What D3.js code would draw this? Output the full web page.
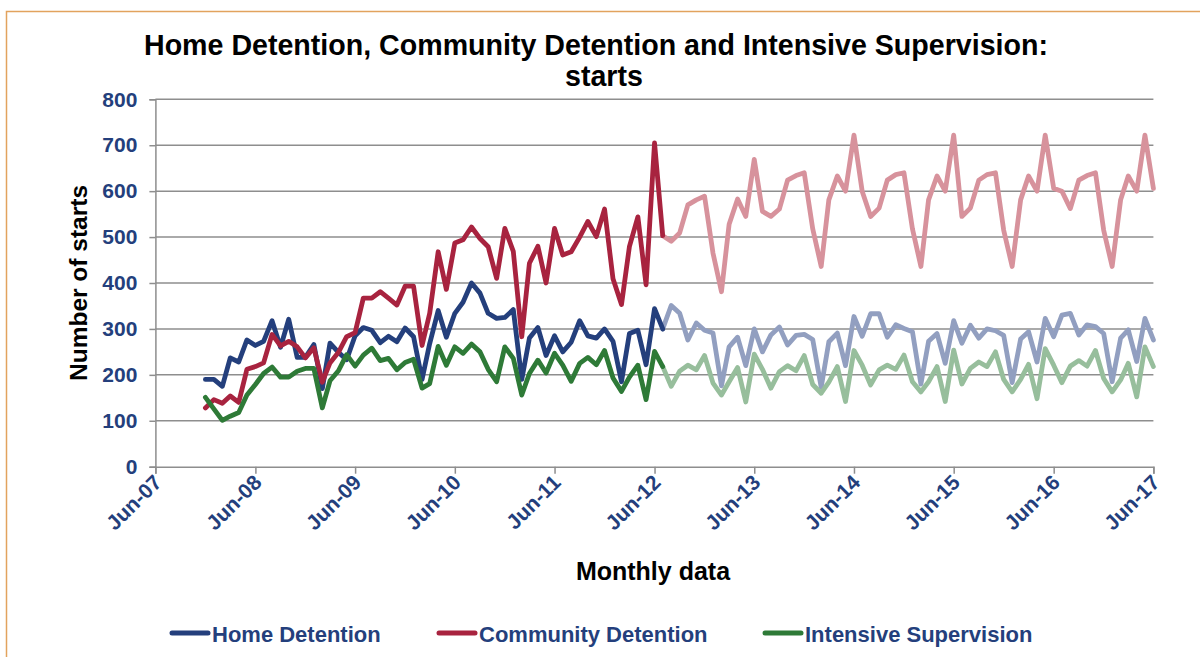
<!DOCTYPE html>
<html>
<head>
<meta charset="utf-8">
<script src="https://cdn.jsdelivr.net/npm/d3@7"></script>
<style>
  body { margin: 0; background: #fff; }
  svg { display: block; }
  text { font-family: "Liberation Sans", Arial, sans-serif; font-weight: bold; }
</style>
</head>
<body>
<svg id="chart" width="1200" height="657"></svg>
<script>
// Monthly starts, actuals from Dec-07 to Jul-12
const actualStart = "2007-12";
const homeDetention = [
  190,
  190, 175, 237, 228, 276, 264, 273, 318, 260, 321, 238, 238,
  266, 170, 269, 249, 233, 285, 303, 297, 270, 284, 272, 302,
  283, 190, 268, 340, 282, 334, 358, 400, 378, 334, 323, 325,
  342, 190, 280, 303, 242, 285, 250, 271, 318, 285, 280, 300,
  273, 185, 290, 297, 222, 344, 300
];
const communityDetention = [
  128,
  146, 138, 154, 140, 212, 218, 226, 288, 263, 273, 261, 237,
  259, 184, 226, 249, 283, 292, 367, 367, 381, 367, 352, 393,
  393, 264, 334, 468, 386, 487, 494, 522, 497, 479, 410, 519,
  469, 283, 443, 480, 400, 519, 461, 468, 500, 534, 501, 561,
  409, 353, 479, 544, 396, 705, 503
];
const intensiveSupervision = [
  151,
  126, 101, 110, 118, 156, 179, 203, 217, 195, 195, 208, 214,
  214, 128, 187, 209, 244, 219, 243, 258, 231, 236, 211, 227,
  234, 171, 181, 262, 221, 261, 247, 267, 250, 212, 185, 261,
  236, 156, 203, 232, 204, 247, 221, 186, 225, 238, 222, 253,
  193, 164, 195, 221, 146, 251, 218
];

// Projected starts, Jul-12 to Jun-17
const projectionStart = "2012-07";
const homeDetentionProj = [
  300, 351, 334, 276, 313, 297,
  291, 176, 261, 282, 220, 300, 250, 287, 304, 265, 286, 288,
  277, 173, 272, 291, 220, 327, 284, 333, 333, 282, 309, 301,
  294, 180, 273, 290, 225, 318, 269, 308, 280, 300, 296, 286,
  183, 278, 294, 228, 323, 283, 330, 334, 287, 309, 305, 290,
  185, 280, 298, 229, 323, 276
];
const communityDetentionProj = [
  503, 491, 509, 570, 581, 589,
  465, 381, 528, 583, 545, 669, 556, 545, 561, 624, 634, 640,
  518, 436, 581, 633, 600, 722, 600, 545, 563, 624, 636, 640,
  518, 436, 581, 633, 600, 722, 545, 563, 624, 636, 640, 515,
  436, 581, 633, 600, 722, 606, 600, 562, 624, 634, 640, 515,
  436, 581, 633, 600, 722, 606
];
const intensiveSupervisionProj = [
  218, 175, 208, 221, 211, 242,
  182, 156, 185, 216, 141, 245, 212, 171, 207, 220, 209, 242,
  179, 160, 184, 218, 142, 253, 221, 178, 211, 221, 212, 243,
  185, 163, 185, 218, 142, 254, 180, 214, 228, 218, 250, 190,
  163, 190, 223, 148, 257, 221, 183, 219, 231, 219, 253, 192,
  163, 189, 225, 152, 261, 218
];

const xTickLabels = ["Jun-07", "Jun-08", "Jun-09", "Jun-10", "Jun-11", "Jun-12",
                     "Jun-13", "Jun-14", "Jun-15", "Jun-16", "Jun-17"];
const yTicks = [0, 100, 200, 300, 400, 500, 600, 700, 800];
const seriesNames = ["Home Detention", "Community Detention", "Intensive Supervision"];

const colors = {
  home: "#243F7C", community: "#A8233F", intensive: "#2E7A37",
  homeLight: "#929FC0", communityLight: "#D7929C", intensiveLight: "#97BE9C",
  grid: "#8E8E8E", tickText: "#243F7C"
};

const svg = d3.select("#chart");
const W = 1200, H = 657;

// frame around the chart
svg.append("path")
  .attr("d", `M6.5,${H + 2} V11.5 H${W + 2}`)
  .attr("fill", "none").attr("stroke", "#E2A35E").attr("stroke-width", 1.5);

const parseMonth = d3.timeParse("%Y-%m");
const parseTick = d3.timeParse("%b-%y");
const tickDates = xTickLabels.map(parseTick);

const x = d3.scaleTime()
  .domain([tickDates[0], tickDates[tickDates.length - 1]])
  .range([155.4, 1153.4]);
const y = d3.scaleLinear().domain([0, 800]).range([466.7, 99.3]);

const toPoints = (start, values) => {
  const s = parseMonth(start);
  return values.map((v, i) => ({ date: d3.timeMonth.offset(s, i), value: v }));
};

// gridlines
svg.append("g").selectAll("line").data(yTicks.filter(d => d > 0)).join("line")
  .attr("x1", x.range()[0]).attr("x2", x.range()[1])
  .attr("y1", d => y(d)).attr("y2", d => y(d))
  .attr("stroke", colors.grid).attr("stroke-width", 1.5);

// y axis
const yAxis = svg.append("g").attr("transform", `translate(${x.range()[0]},0)`)
  .call(d3.axisLeft(y).tickValues(yTicks).tickSize(6).tickPadding(12).tickFormat(d3.format("d")));
yAxis.select(".domain").attr("stroke", colors.grid).attr("stroke-width", 1.5);
yAxis.selectAll(".tick line").attr("stroke", colors.grid).attr("stroke-width", 1.5);
yAxis.selectAll(".tick text")
  .attr("fill", colors.tickText).attr("font-size", 21).attr("font-family", null);

// x axis
const xAxis = svg.append("g").attr("transform", `translate(0,${y(0)})`)
  .call(d3.axisBottom(x).tickValues(tickDates).tickSize(7).tickFormat((d, i) => xTickLabels[i]));
xAxis.select(".domain").attr("stroke", colors.grid).attr("stroke-width", 1.5);
xAxis.selectAll(".tick line").attr("stroke", colors.grid).attr("stroke-width", 1.5);
xAxis.selectAll(".tick text")
  .attr("fill", colors.tickText).attr("font-size", 21).attr("font-family", null)
  .attr("text-anchor", "end")
  .attr("y", 0).attr("dy", 0)
  .attr("transform", "translate(7,17) rotate(-45)");

// series lines
const line = d3.line().x(d => x(d.date)).y(d => y(d.value)).curve(d3.curveLinear);
const series = [
  { data: toPoints(projectionStart, homeDetentionProj), color: colors.homeLight },
  { data: toPoints(projectionStart, communityDetentionProj), color: colors.communityLight },
  { data: toPoints(projectionStart, intensiveSupervisionProj), color: colors.intensiveLight },
  { data: toPoints(actualStart, homeDetention), color: colors.home },
  { data: toPoints(actualStart, communityDetention), color: colors.community },
  { data: toPoints(actualStart, intensiveSupervision), color: colors.intensive }
];
svg.append("g").selectAll("path").data(series).join("path")
  .attr("d", d => line(d.data))
  .attr("fill", "none").attr("stroke", d => d.color)
  .attr("stroke-width", 4.8).attr("stroke-linejoin", "round").attr("stroke-linecap", "round");

// titles
svg.append("text").attr("x", 596).attr("y", 55).attr("text-anchor", "middle")
  .attr("font-size", 28.6).attr("fill", "#000")
  .text("Home Detention, Community Detention and Intensive Supervision:");
svg.append("text").attr("x", 604).attr("y", 86).attr("text-anchor", "middle")
  .attr("font-size", 28.6).attr("fill", "#000").text("starts");
svg.append("text").attr("transform", "translate(87,283) rotate(-90)").attr("text-anchor", "middle")
  .attr("font-size", 24.5).attr("fill", "#000").text("Number of starts");
svg.append("text").attr("x", 653).attr("y", 580).attr("text-anchor", "middle")
  .attr("font-size", 25).attr("fill", "#000").text("Monthly data");

// legend
const legendX = [170, 437, 763];
const legendColors = [colors.home, colors.community, colors.intensive];
const legend = svg.append("g").selectAll("g").data(seriesNames).join("g")
  .attr("transform", (d, i) => `translate(${legendX[i]},633)`);
legend.append("line").attr("x1", 2).attr("x2", 38).attr("y1", 0).attr("y2", 0)
  .attr("stroke", (d, i) => legendColors[i]).attr("stroke-width", 5).attr("stroke-linecap", "round");
legend.append("text").attr("x", 42).attr("y", 9).attr("font-size", 22)
  .attr("fill", colors.tickText).text(d => d);
</script>
</body>
</html>
